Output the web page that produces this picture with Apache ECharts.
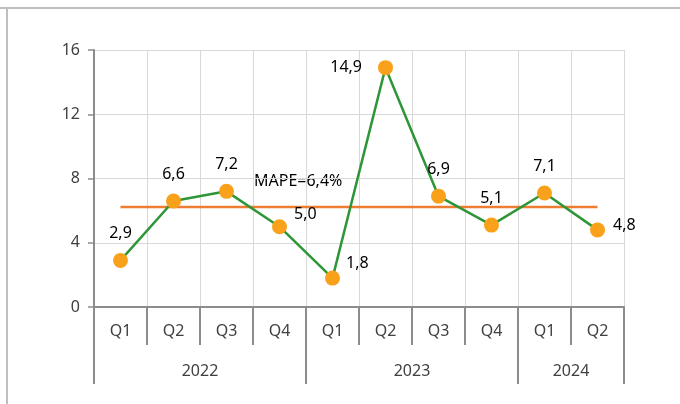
<!DOCTYPE html>
<html>
<head>
<meta charset="utf-8">
<script src="https://cdn.jsdelivr.net/npm/echarts@6/dist/echarts.min.js"></script>
<style>
  html, body { margin: 0; padding: 0; background: #fff; }
  #chart { width: 680px; height: 404px; }
</style>
</head>
<body>
<div id="chart"></div>
<script>
// data
const quarters = ['Q1', 'Q2', 'Q3', 'Q4', 'Q1', 'Q2', 'Q3', 'Q4', 'Q1', 'Q2']
const years = ['2022', '2023', '2024']
const yearStart = [0, 4, 8]   // first quarter index of each year
const yearEnd = [4, 8, 10]
const values = [2.9, 6.6, 7.2, 5.0, 1.8, 14.9, 6.9, 5.1, 7.1, 4.8]
const mapeLine = [6.23, 6.23, 6.23, 6.23, 6.23, 6.23, 6.23, 6.23, 6.23, 6.23]
const mapeText = 'MAPE=6,4%'
const yTicks = [0, 4, 8, 12, 16]

// where each value label sits
const labelPos = [
  { position: 'top', distance: 11 },
  { position: 'top', distance: 11 },
  { position: 'top', distance: 11 },
  { position: 'right', distance: 7, offset: [0, -12] },
  { position: 'right', distance: 6, offset: [0, -15] },
  { position: 'left', distance: 16 },
  { position: 'top', distance: 11 },
  { position: 'top', distance: 11 },
  { position: 'top', distance: 11 },
  { position: 'right', distance: 8, offset: [0, -4] }
]

const fmt = v => v.toFixed(1).replace('.', ',')

// year axis: 11 positions on the boundaries, year name in the middle of its span
const yearSlots = []
for (let i = 0; i <= quarters.length; i++) yearSlots.push('')
years.forEach((y, i) => {
  const mid = (yearStart[i] + yearEnd[i]) / 2
  if (Number.isInteger(mid)) yearSlots[mid] = y
})
const bounds = [0].concat(yearEnd)

const myChart = echarts.init(document.getElementById('chart'))
const font = 'Noto Sans'
const axisGray = '#8c8c8c'

const option = {
  animation: false,
  textStyle: { fontFamily: font },
  grid: { left: 94, right: 56, top: 50, bottom: 97 },
  xAxis: [
    {
      type: 'category',
      data: quarters,
      position: 'bottom',
      boundaryGap: true,
      axisLine: { lineStyle: { color: axisGray, width: 2 } },
      axisTick: { show: true, interval: 0, length: 38, lineStyle: { color: axisGray, width: 2 } },
      axisLabel: { interval: 0, margin: 16, fontSize: 16, color: '#404040', fontFamily: font },
      splitLine: { show: true, interval: 0, lineStyle: { color: '#d9d9d9', width: 1 } }
    },
    {
      type: 'category',
      data: yearSlots,
      position: 'bottom',
      boundaryGap: false,
      axisLine: { show: false },
      axisTick: {
        show: true,
        interval: idx => bounds.indexOf(idx) >= 0,
        length: 77,
        lineStyle: { color: axisGray, width: 2 }
      },
      axisLabel: { interval: 0, margin: 56, fontSize: 16, color: '#404040', fontFamily: font },
      splitLine: { show: false }
    }
  ],
  yAxis: {
    type: 'value',
    min: yTicks[0],
    max: yTicks[yTicks.length - 1],
    interval: 4,
    axisLine: { show: true, lineStyle: { color: axisGray, width: 2 } },
    axisTick: { show: true, length: 6, lineStyle: { color: axisGray, width: 1.5 } },
    axisLabel: { margin: 14, fontSize: 16, color: '#404040', fontFamily: font },
    splitLine: { lineStyle: { color: '#d9d9d9', width: 1 } }
  },
  graphic: [
    { type: 'line', shape: { x1: 0, y1: 8, x2: 680, y2: 8 }, style: { stroke: '#bfbfbf', lineWidth: 2 } },
    { type: 'line', shape: { x1: 7, y1: 8, x2: 7, y2: 404 }, style: { stroke: '#bfbfbf', lineWidth: 2 } },
    { type: 'text', left: 254, top: 173, style: { text: mapeText, font: '16px "Noto Sans"', fill: '#000' } }
  ],
  series: [
    {
      name: 'MAPE',
      type: 'line',
      data: mapeLine,
      symbol: 'none',
      lineStyle: { color: '#ed7d31', width: 2.5 },
      z: 2
    },
    {
      name: 'value',
      type: 'line',
      data: values.map((v, i) => ({
        value: v,
        label: { show: true, formatter: fmt(v), ...labelPos[i] }
      })),
      symbol: 'circle',
      symbolSize: 15,
      itemStyle: { color: '#f9a11b' },
      lineStyle: { color: '#2e9637', width: 2.5 },
      label: { fontSize: 16, color: '#000', fontFamily: font },
      z: 3
    }
  ]
}

myChart.setOption(option)
</script>
</body>
</html>
